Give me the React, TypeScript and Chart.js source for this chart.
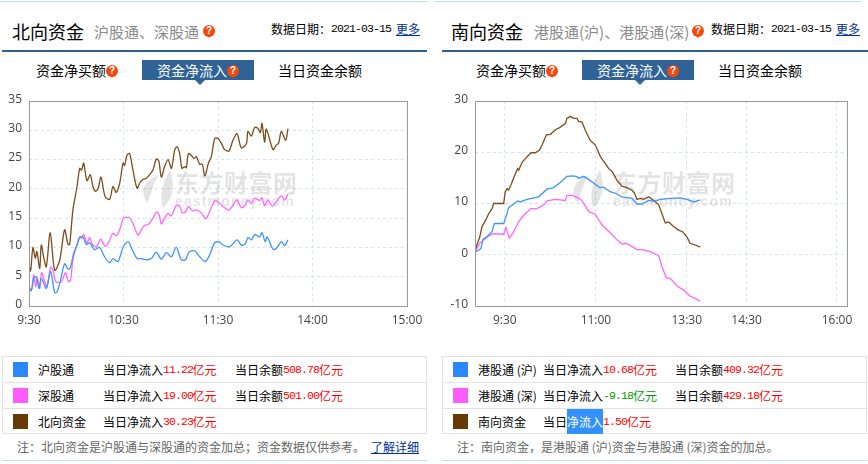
import React, { useEffect, useRef } from "react";
import { Chart, registerables } from "chart.js";

Chart.register(...registerables);

// ---- Northbound (minutes from 9:30 on the chart's own axis, values in 亿元)
const nTickMinutes = [0, 60, 120, 180, 240];
const nTickLabels = ["9:30", "10:30", "11:30", "14:00", "15:00"];
const nYTicks = [0, 5, 10, 15, 20, 25, 30, 35];

const hgtMin = [0,1.5,3,4.7,6.35,7.8,11,13.7,16.3,17.8,19.9,22.6,24.8,26.2,28.4,30.5,32.2,34.3,36.4,38.5,41.7,44.8,48,51.2,53.3,56.5,59.7,62.9,65.6,68.6,71.3,74.5,77.7,80.8,84,87.2,90.4,93.5,96.7,99.4,101.6,105.2,108.4,111.9,114.7,117.9,121,123.2,127.4,132.1,134.8,137.4,139,141.2,143.3,146.5,147.9,150,151.2,154.9,157,160.2,162.3,164.4];
const hgtVal = [3.2,2.6,4.7,5,3,4.7,3,5.9,2.3,2.4,4.2,7.2,6.3,6.5,9,10.4,11.7,11.8,10.5,10.8,9.6,10,8.4,7.4,8.1,7.6,10,11,9.6,8.1,8.1,7.9,8.1,9.2,8,9.1,8.4,10,7.9,7.9,9.2,9.4,8.4,7.6,8.7,10.8,10.9,10.4,10.1,11.3,10.4,10.6,11.7,11.3,12.2,11.8,12.5,11,11.8,9.7,9.8,11,10.3,11.3];

const sgtMin = [0,1.5,3,4.2,5.3,6.8,8,9.9,11.4,13.7,15.2,16.9,19.5,21.2,23.1,24.8,26.3,27.9,30,32.2,33.4,34.7,36.8,38.5,40.2,42.8,45.5,48.3,50.8,53.3,55.4,57.6,60.1,63.5,66,69.2,71.3,73.4,75.6,78.7,80.8,82.5,84,86.1,88.3,90.4,93.5,95.7,97.3,99.4,101.2,103.7,106.2,109.4,112.2,114.7,117.9,120,123.2,127,129.5,132.1,134.8,137,139,141.2,143.3,146.5,147.9,149.6,151.7,154.5,157,160.2,162.3,164.4];
const sgtVal = [3.3,2.7,5.3,3.3,4.7,3,5.7,4.2,3.3,6.6,6.1,4.2,4,4.4,5.7,4.3,4.3,7.9,10.1,11.8,11.5,12.2,10.8,11.7,10.5,10.1,11.4,10.2,11,12.4,12,13,15,15.1,14.1,12.1,13,13.8,13.9,15,16,15.7,14,15,15.8,15.4,17.2,17,15.9,16.1,17,16.3,16.4,15.9,14.9,16.1,18,17.8,17,16.4,17.2,18.1,16.8,17.1,18.1,17.5,18.4,18,18.5,17.1,18.1,17,17.8,18.8,18.1,19.1];

const northMin = [0,1,2.5,4,5,6.8,7.8,9.5,11,13.5,16.3,19.5,22.6,24.8,25.8,27.9,30.5,32.2,33.4,34.7,36.8,38.9,40.6,42.1,43.8,45.7,48.3,51.2,53.3,55.4,57.6,59.7,60.7,62.2,63.9,66,68.6,70.3,72.4,74.5,76.6,78.7,80.8,82.5,84,86.1,88.3,90.4,92.5,94,95.7,97.1,98.8,99.9,101.2,103.1,104.8,106.2,108.4,110,111.7,113.9,115.8,117.9,120,122.1,124.2,127,129.5,132.1,134.8,138,139,141.2,143.3,145.4,146.9,147.9,149.6,150.7,154.9,157,158.5,160.2,163,164.4];
const northVal = [7,6,10,8.2,9.3,6.4,10.4,8.1,6.7,12.5,6.1,7.8,13,10.5,10.5,16.4,20.4,23.5,23.2,24.4,21.4,22.4,20.4,19.6,20,22,18.7,18.2,20.4,19.4,21,24.4,24,25.8,26,23.2,20.1,21,21.6,21.8,22.4,23.2,25.1,24.7,22,23.8,25,23.5,26.6,27.2,26,23.5,23.8,23.6,26,25.7,25.2,25.5,24.2,24.2,22.2,24.4,25.5,28.6,28.6,27.8,26.7,26.5,28.3,29.4,27,27.7,29.8,29,30.5,30.3,29.6,31.2,28,30.2,26.7,27.5,27.8,29.8,28.3,30.3];

// ---- Southbound (minutes from the left edge of its axis)
const sTickMinutes = [29.4, 119.4, 209.1, 268.2, 357.4];
const sTickLabels = ["9:30", "11:00", "13:30", "14:30", "16:00"];
const sYTicks = [-10, 0, 10, 20, 30];

const ggtHMin = [0,5.9,7.9,11.8,16.8,19.1,28.3,30.6,33.2,38.2,42.1,44.7,51.3,62.8,71,77.6,84.2,90.8,97.4,101.3,102.3,107.3,112.2,117.1,123,127,133.5,138.5,145.1,155,159.9,164.8,171.4,176.4,182.9,192.8,202.6,209.2,216.4,222.4];
const ggtHVal = [.5,1.2,3,3.5,4.5,6.1,6.1,7.4,9.2,9.9,10.5,10.3,10.8,11.3,12.8,13.1,14.1,15.3,15.4,15.2,14.9,15.3,14.7,14,13.1,13.2,12.3,12,11.3,11,9.9,9.9,10.6,10.4,10.8,11,11.1,10.8,10.3,10.7];

const ggtSMin = [0,4.6,8.6,13.5,18.4,28.3,30.6,33.9,38.2,43.1,48,55.3,61.2,67.8,71,79.4,89.2,90.8,95.7,100.7,105.6,112.2,118.8,125.4,133.5,140.2,145.1,150,159.9,164.8,173,181.3,184.6,188.9,192.8,199.4,206,212.5,217.4,222.4];
const ggtSVal = [.5,2.2,2.9,3.7,4.1,4,5.3,3.2,4.5,6.4,7.7,9,9,9.7,10.5,10.8,10.6,11.6,11.6,11.2,10.6,8.4,7.9,5.8,4.3,2.9,2.1,2.2,1,1,.6,-.2,-2.3,-4.5,-4.6,-6.1,-6.9,-8.1,-8.5,-9.1];

const southMin = [0,2,4.6,6.9,10.2,13.5,16.8,18.4,28.3,29.9,31.6,33.2,35.5,38.8,42.1,43.1,46.7,51.3,55.3,59.6,63.5,66.2,70.5,74.4,79.4,83.5,89.2,90.8,94.1,97.4,100.7,102.3,105.6,108.9,113.8,118.8,123.7,128.7,132,135.2,140.2,145.1,150,154.9,157.6,159.9,163.2,166.5,171.4,176.4,181.3,184.6,187.9,191.1,196.1,201,205,209.2,212.5,215.8,219.1,222.4];
const southVal = [.5,2,3.4,5.5,6.6,8,9,10,10,12.3,12.9,12.6,13.6,15.3,16.8,16.5,18.1,19.1,19.9,19.9,20.4,21.4,23.4,23.5,24.4,24.8,25.6,26.6,27,26.6,26.6,26,25.9,24.3,22.3,21.4,19.2,17.8,16.8,16.3,14.5,13.4,13.1,12.6,12,10.8,11,10.8,11.3,10.6,9.8,8,6.2,6.4,5.5,4.8,4.5,3.5,2.2,2,1.8,1.5];

const BLUE = "#3f94ff";
const PINK = "#ff66ff";
const BROWN = "#7d4c1c";
const SW_BLUE = "#2b87ff";
const SW_PINK = "#ff5cff";
const SW_BROWN = "#663905";
const CJK = '"Noto Sans CJK SC", "Noto Sans", sans-serif';
const MONO = '"Liberation Mono", monospace';

const zip = (m: number[], v: number[]) => m.map((x, i) => ({ x, y: v[i] }));

const makeChart = (
  canvas: HTMLCanvasElement,
  cfg: {
    sets: { data: { x: number; y: number }[]; color: string }[];
    xMax: number;
    yMin: number;
    yMax: number;
    xTicks: number[];
    xLabels: string[];
    yTicks: number[];
    yWidth: number;
    padRight: number;
    tension: number;
    wmX: number;
    logoX: number;
  }
) => {
  const watermark = {
    id: "watermark",
    beforeDatasetsDraw(chart: any) {
      const { ctx } = chart;
      ctx.save();
      ctx.fillStyle = "rgba(0,0,0,0.11)";
      ctx.textBaseline = "middle";
      ctx.textAlign = "left";
      ctx.font = 'bold 24px "Noto Sans CJK SC"';
      (ctx as any).letterSpacing = "0.5px";
      ctx.fillText("东方财富网", cfg.wmX, 93);
      ctx.font = 'bold 14px "Liberation Sans"';
      (ctx as any).letterSpacing = "1.15px";
      ctx.fillText("eastmoney.com", cfg.wmX, 112);
      (ctx as any).letterSpacing = "0px";
      const lx = cfg.logoX;
      ctx.beginPath();
      ctx.moveTo(lx + 5, 113);
      ctx.bezierCurveTo(lx - 3, 100, lx + 3, 90, lx + 17, 85);
      ctx.bezierCurveTo(lx + 11, 93, lx + 10, 103, lx + 5, 113);
      ctx.moveTo(lx + 21, 118);
      ctx.bezierCurveTo(lx + 17, 104, lx + 21, 92, lx + 28, 80);
      ctx.bezierCurveTo(lx + 33, 95, lx + 32, 108, lx + 21, 118);
      ctx.fill();
      ctx.restore();
    },
  };
  const frame = {
    id: "frame",
    afterDatasetsDraw(chart: any) {
      const { ctx, chartArea: a } = chart;
      ctx.save();
      ctx.strokeStyle = "#999999";
      ctx.lineWidth = 1;
      ctx.strokeRect(Math.round(a.left) + 0.5, Math.round(a.top) + 0.5, Math.round(a.width), Math.round(a.height));
      ctx.restore();
    },
  };
  const tickFont = { family: '"Open Sans", "Liberation Sans", sans-serif', size: 12 };
  const grid = {
    color: "#d6e4f0",
    lineWidth: 1,
    drawTicks: false,
    tickBorderDash: [],
  };
  return new Chart(canvas, {
    type: "line",
    data: {
      datasets: cfg.sets.map((s) => ({
        data: s.data,
        borderColor: s.color,
        borderWidth: 1.3,
        pointRadius: 0,
        tension: cfg.tension,
        fill: false,
      })),
    },
    plugins: [watermark, frame],
    options: {
      animation: false,
      responsive: false,
      parsing: false,
      events: [],
      layout: { padding: { top: 11, right: cfg.padRight, bottom: 0, left: 0 } },
      plugins: { legend: { display: false }, tooltip: { enabled: false }, title: { display: false } },
      scales: {
        x: {
          type: "linear",
          min: 0,
          max: cfg.xMax,
          afterBuildTicks: (s: any) => {
            s.ticks = cfg.xTicks.map((value) => ({ value }));
          },
          afterFit: (s: any) => {
            s.height = 24;
          },
          border: { display: false, dash: [3, 3] },
          grid,
          ticks: {
            autoSkip: false,
            maxRotation: 0,
            padding: 7,
            color: "#444444",
            font: tickFont,
            callback: (v: any) => cfg.xLabels[cfg.xTicks.indexOf(v)],
          },
        },
        y: {
          type: "linear",
          min: cfg.yMin,
          max: cfg.yMax,
          afterBuildTicks: (s: any) => {
            s.ticks = cfg.yTicks.map((value) => ({ value }));
          },
          afterFit: (s: any) => {
            s.width = cfg.yWidth;
            s.paddingTop = 0;
            s.paddingBottom = 0;
          },
          border: { display: false, dash: [3, 3] },
          grid,
          ticks: { padding: 7, labelOffset: -1.5, color: "#444444", font: tickFont },
        },
      },
    } as any,
  });
};

const T = ({ x, y, c = "#000", s = 12, f = CJK, ls, children, u, w }: any) => (
  <span
    style={{
      position: "absolute",
      left: x,
      top: y,
      transform: "translateY(-50%)",
      color: c,
      fontSize: s,
      fontFamily: f,
      letterSpacing: ls,
      lineHeight: 1,
      whiteSpace: "pre",
      textDecoration: u ? "underline" : "none",
      fontWeight: w || 400,
    }}
  >
    {children}
  </span>
);

const Num = ({ x, y, c = "#ff0000", children }: any) => (
  <T x={x} y={y} c={c} f={MONO} s={11.5} ls="-0.9px">
    {children}
  </T>
);

const Help = ({ x, y }: any) => (
  <>
    <span
      style={{
        position: "absolute",
        left: x,
        top: y,
        width: 12,
        height: 12,
        borderRadius: "50%",
        background: "#f24a0c",
        color: "#fff",
        fontSize: 10,
        fontWeight: 700,
        lineHeight: "12px",
        textAlign: "center",
        fontFamily: '"Liberation Sans"',
      }}
    >
      ?
    </span>
    <span
      style={{
        position: "absolute",
        left: x + 4,
        top: y + 10,
        width: 0,
        height: 0,
        borderLeft: "2px solid transparent",
        borderRight: "2px solid transparent",
        borderTop: "3px solid #f24a0c",
      }}
    />
  </>
);

const Box = ({ x, y, w, h, bg }: any) => (
  <div style={{ position: "absolute", left: x, top: y, width: w, height: h, background: bg }} />
);

const Tabs = ({ dx }: any) => (
  <>
    <T x={36 + dx} y={70} s={14}>资金净买额</T>
    <Help x={106 + dx} y={65} />
    <Box x={142 + dx} y={60} w={112} h={20} bg="#2f6296" />
    <div
      style={{
        position: "absolute",
        left: 195 + dx,
        top: 80,
        width: 0,
        height: 0,
        borderLeft: "5px solid transparent",
        borderRight: "5px solid transparent",
        borderTop: "5px solid #2f6296",
      }}
    />
    <T x={157 + dx} y={70} s={14} c="#fff">资金净流入</T>
    <Help x={227 + dx} y={65} />
    <T x={278 + dx} y={70} s={14}>当日资金余额</T>
  </>
);

const TableFrame = ({ x, w }: any) => (
  <>
    <div
      style={{
        position: "absolute",
        left: x,
        top: 356,
        width: w - 2,
        height: 76,
        border: "1px solid #e3e3e3",
      }}
    />
    <Box x={x} y={382} w={w} h={1} bg="#e3e3e3" />
    <Box x={x} y={408} w={w} h={1} bg="#e3e3e3" />
  </>
);

export default function App() {
  const leftRef = useRef<HTMLCanvasElement>(null);
  const rightRef = useRef<HTMLCanvasElement>(null);

  useEffect(() => {
    const a = makeChart(leftRef.current!, {
      sets: [
        { data: zip(hgtMin, hgtVal), color: BLUE },
        { data: zip(sgtMin, sgtVal), color: PINK },
        { data: zip(northMin, northVal), color: BROWN },
      ],
      xMax: 240,
      yMin: 0,
      yMax: 35,
      xTicks: nTickMinutes,
      xLabels: nTickLabels,
      yTicks: nYTicks,
      yWidth: 29,
      padRight: 27,
      tension: 0.3,
      wmX: 175,
      logoX: 142,
    });
    const b = makeChart(rightRef.current!, {
      sets: [
        { data: zip(ggtHMin, ggtHVal), color: BLUE },
        { data: zip(ggtSMin, ggtSVal), color: PINK },
        { data: zip(southMin, southVal), color: BROWN },
      ],
      xMax: 367.3,
      yMin: -10,
      yMax: 30,
      xTicks: sTickMinutes,
      xLabels: sTickLabels,
      yTicks: sYTicks,
      yWidth: 41,
      padRight: 21,
      tension: 0,
      wmX: 179,
      logoX: 138,
    });
    return () => {
      a.destroy();
      b.destroy();
    };
  }, []);

  return (
    <div style={{ position: "fixed", left: 0, top: 0, width: 868, height: 464, background: "#fff", overflow: "hidden" }}>
      {/* top and header rules */}
      <Box x={0} y={1} w={428} h={1} bg="#c6d9e8" />
      <Box x={434} y={1} w={428} h={1} bg="#c6d9e8" />
      <Box x={2} y={50} w={425} h={2} bg="#2f5f96" />
      <Box x={442} y={50} w={426} h={2} bg="#2f5f96" />

      {/* left header */}
      <T x={12} y={31} s={18}>北向资金</T>
      <T x={94} y={31} s={15} c="#8a8a8a">沪股通、深股通</T>
      <Help x={203} y={25} />
      <T x={271} y={29}>{"数据日期\uFF1A"}</T>
      <Num x={331} y={29} c="#000">2021-03-15</Num>
      <T x={396} y={29} c="#00309a" u>更多</T>
      <Tabs dx={0} />

      {/* right header */}
      <T x={451} y={31} s={18}>南向资金</T>
      <T x={534} y={31} s={15} c="#8a8a8a">港股通(沪)、港股通(深)</T>
      <Help x={692} y={25} />
      <T x={711} y={29}>{"数据日期\uFF1A"}</T>
      <Num x={771} y={29} c="#000">2021-03-15</Num>
      <T x={836} y={29} c="#00309a" u>更多</T>
      <Tabs dx={440} />

      <canvas ref={leftRef} width={434} height={240} style={{ position: "absolute", left: 0, top: 90 }} />
      <canvas ref={rightRef} width={434} height={240} style={{ position: "absolute", left: 434, top: 90 }} />

      {/* left table */}
      <TableFrame x={2} w={425} />
      <Box x={13} y={362} w={15} h={15} bg={SW_BLUE} />
      <Box x={13} y={388} w={15} h={15} bg={SW_PINK} />
      <Box x={13} y={414} w={15} h={15} bg={SW_BROWN} />
      <T x={38} y={370}>沪股通</T>
      <T x={38} y={396}>深股通</T>
      <T x={38} y={422}>北向资金</T>
      <T x={103} y={370}>当日净流入</T>
      <T x={103} y={396}>当日净流入</T>
      <T x={103} y={422}>当日净流入</T>
      <Num x={163} y={370}>11.22</Num>
      <Num x={163} y={396}>19.00</Num>
      <Num x={163} y={422}>30.23</Num>
      <T x={192.5} y={370} c="#f00">亿元</T>
      <T x={192.5} y={396} c="#f00">亿元</T>
      <T x={192.5} y={422} c="#f00">亿元</T>
      <T x={235} y={370}>当日余额</T>
      <T x={235} y={396}>当日余额</T>
      <Num x={283} y={370}>508.78</Num>
      <Num x={283} y={396}>501.00</Num>
      <T x={319} y={370} c="#f00">亿元</T>
      <T x={319} y={396} c="#f00">亿元</T>
      <T x={17} y={447} c="#666">{"注\uFF1A北向资金是沪股通与深股通的资金加总\uFF1B资金数据仅供参考。"}</T>
      <T x={371} y={447} c="#00309a" u>了解详细</T>
      <Box x={2} y={460} w={425} h={1} bg="#c0dcf0" />

      {/* right table */}
      <TableFrame x={442} w={425} />
      <Box x={453} y={362} w={15} h={15} bg={SW_BLUE} />
      <Box x={453} y={388} w={15} h={15} bg={SW_PINK} />
      <Box x={453} y={414} w={15} h={15} bg={SW_BROWN} />
      <T x={478} y={370}>港股通 (沪)</T>
      <T x={478} y={396}>港股通 (深)</T>
      <T x={478} y={422}>南向资金</T>
      <T x={543} y={370}>当日净流入</T>
      <T x={543} y={396}>当日净流入</T>
      <T x={543} y={422}>当日</T>
      <Box x={567} y={409} w={36} h={25} bg="#3390ff" />
      <T x={567} y={422} c="#fff">净流入</T>
      <Num x={603} y={370}>10.68</Num>
      <Num x={603} y={396} c="#009900">-9.18</Num>
      <Num x={603} y={422}>1.50</Num>
      <T x={633} y={370} c="#f00">亿元</T>
      <T x={633} y={396} c="#090">亿元</T>
      <T x={627} y={422} c="#f00">亿元</T>
      <T x={675} y={370}>当日余额</T>
      <T x={675} y={396}>当日余额</T>
      <Num x={723} y={370}>409.32</Num>
      <Num x={723} y={396}>429.18</Num>
      <T x={759} y={370} c="#f00">亿元</T>
      <T x={759} y={396} c="#f00">亿元</T>
      <T x={457} y={447} c="#666">{"注\uFF1A南向资金\uFF0C是港股通 (沪)资金与港股通 (深)资金的加总。"}</T>
      <Box x={442} y={460} w={425} h={1} bg="#c0dcf0" />
    </div>
  );
}
